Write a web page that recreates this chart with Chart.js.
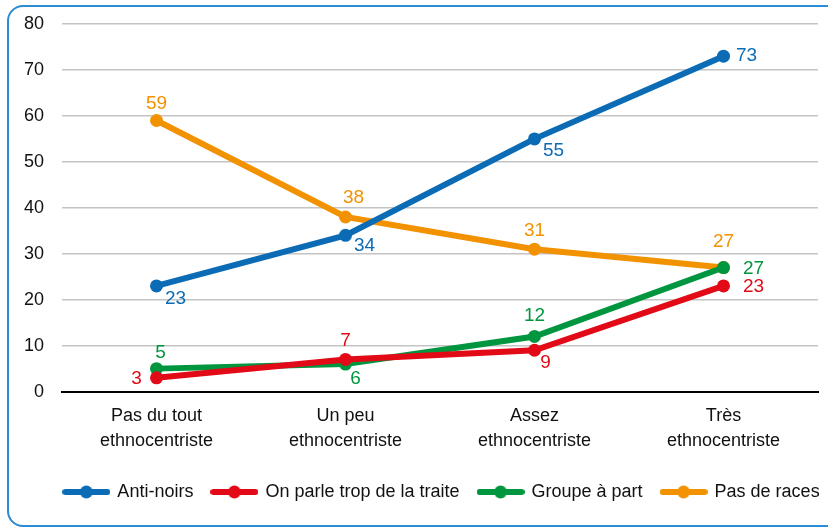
<!DOCTYPE html>
<html>
<head>
<meta charset="utf-8">
<script src="https://cdn.jsdelivr.net/npm/chart.js@4.4.1/dist/chart.umd.min.js"></script>
<style>
  body { margin: 0; background: #fff; }
  #wrap { position: relative; width: 828px; height: 529px; overflow: hidden; }
  #frame { position: absolute; left: 7px; top: 5px; width: 840px; height: 518px;
           border: 2px solid #2b8bd3; border-radius: 16px; }
  canvas { position: absolute; left: 0; top: 0; }
</style>
</head>
<body>
<div id="wrap">
  <div id="frame"></div>
  <canvas id="myChart" width="828" height="529"></canvas>
</div>
<script>
const FONT = '"Liberation Sans", Arial, sans-serif';

const categories = [['Pas du tout', 'ethnocentriste'], ['Un peu', 'ethnocentriste'], ['Assez', 'ethnocentriste'], ['Très', 'ethnocentriste']];
const antiNoirs = [23, 34, 55, 73];
const traite = [3, 7, 9, 23];
const groupe = [5, 6, 12, 27];
const races = [59, 38, 31, 27];
const yTicks = [0, 10, 20, 30, 40, 50, 60, 70, 80];

// label offsets from the point (dx, dy)
const antiNoirsLbl = [[19, 13], [19, 10], [19, 12], [23, 0]];
const traiteLbl = [[-20, 1], [0, -19], [11, 13], [30, 1]];
const groupeLbl = [[4, -16], [10, 15], [0, -21], [30, 1]];
const racesLbl = [[0, -17], [8, -19], [0, -18], [0, -26]];

const BLUE = '#0b6cb5', RED = '#e30a17', GREEN = '#00963f', ORANGE = '#f39200';

function legendSymbol(color) {
  const c = document.createElement('canvas');
  c.width = 48; c.height = 14;
  const g = c.getContext('2d');
  g.strokeStyle = color; g.lineWidth = 6; g.lineCap = 'round';
  g.beginPath(); g.moveTo(3, 7); g.lineTo(45, 7); g.stroke();
  g.fillStyle = color;
  g.beginPath(); g.arc(24, 7, 6.5, 0, Math.PI * 2); g.fill();
  return c;
}

function series(label, data, color, lbl) {
  return {
    label: label,
    data: data,
    borderColor: color,
    backgroundColor: color,
    borderWidth: 6,
    pointRadius: 6.5,
    pointHoverRadius: 6.5,
    pointBorderWidth: 0,
    pointStyle: 'circle',
    tension: 0,
    lblOffsets: lbl,
    legendIcon: legendSymbol(color)
  };
}

const valueLabels = {
  id: 'valueLabels',
  afterDatasetsDraw(chart) {
    const ctx = chart.ctx;
    ctx.save();
    ctx.font = '19px ' + FONT;
    ctx.textAlign = 'center';
    ctx.textBaseline = 'middle';
    chart.data.datasets.forEach((ds, i) => {
      const meta = chart.getDatasetMeta(i);
      meta.data.forEach((pt, j) => {
        const off = ds.lblOffsets[j];
        ctx.fillStyle = ds.borderColor;
        ctx.fillText(String(ds.data[j]), pt.x + off[0], pt.y + off[1]);
      });
    });
    ctx.restore();
  }
};

// move the legend so it is centred under the plot area
const shiftLegend = {
  id: 'shiftLegend',
  afterLayout(chart) {
    const l = chart.legend;
    const d = (chart.chartArea.left + chart.chartArea.right) / 2 - (l.left + l.right) / 2 + 2;
    l.left += d; l.right += d;
    l.top += 6; l.bottom += 6;
  }
};

const ctx = document.getElementById('myChart');

new Chart(ctx, {
  type: 'line',
  data: {
    labels: categories,
    datasets: [
      series('Anti-noirs', antiNoirs, BLUE, antiNoirsLbl),
      series('On parle trop de la traite', traite, RED, traiteLbl),
      series('Groupe à part', groupe, GREEN, groupeLbl),
      series('Pas de races', races, ORANGE, racesLbl)
    ]
  },
  options: {
    responsive: false,
    animation: false,
    events: [],
    layout: {
      padding: { left: 0, right: 10, top: 24, bottom: 24 }
    },
    scales: {
      x: {
        offset: true,
        grid: { display: false },
        border: { color: '#000', width: 2 },
        ticks: { color: '#111', font: { family: FONT, size: 18, lineHeight: 1.4 }, padding: 4, maxRotation: 0 }
      },
      y: {
        min: 0,
        max: 80,
        afterBuildTicks: (scale) => { scale.ticks = yTicks.map(v => ({ value: v })); },
        afterFit: (scale) => { scale.width = 62; scale.paddingTop = 0; scale.paddingBottom = 0; },
        border: { display: false },
        grid: {
          drawTicks: false,
          color: (c) => c.tick && c.tick.value === 0 ? 'rgba(0,0,0,0)' : '#c4c4c4',
          lineWidth: 1.5
        },
        ticks: { color: '#111', font: { family: FONT, size: 18 }, padding: 18 }
      }
    },
    plugins: {
      tooltip: { enabled: false },
      legend: {
        position: 'bottom',
        labels: {
          usePointStyle: true,
          pointStyleWidth: 44,
          color: '#111',
          font: { family: FONT, size: 18 },
          padding: 19,
          generateLabels: (chart) => {
            const items = Chart.defaults.plugins.legend.labels.generateLabels(chart);
            items.forEach(it => { it.pointStyle = chart.data.datasets[it.datasetIndex].legendIcon; });
            return items;
          }
        }
      }
    }
  },
  plugins: [valueLabels, shiftLegend]
});
</script>
</body>
</html>
